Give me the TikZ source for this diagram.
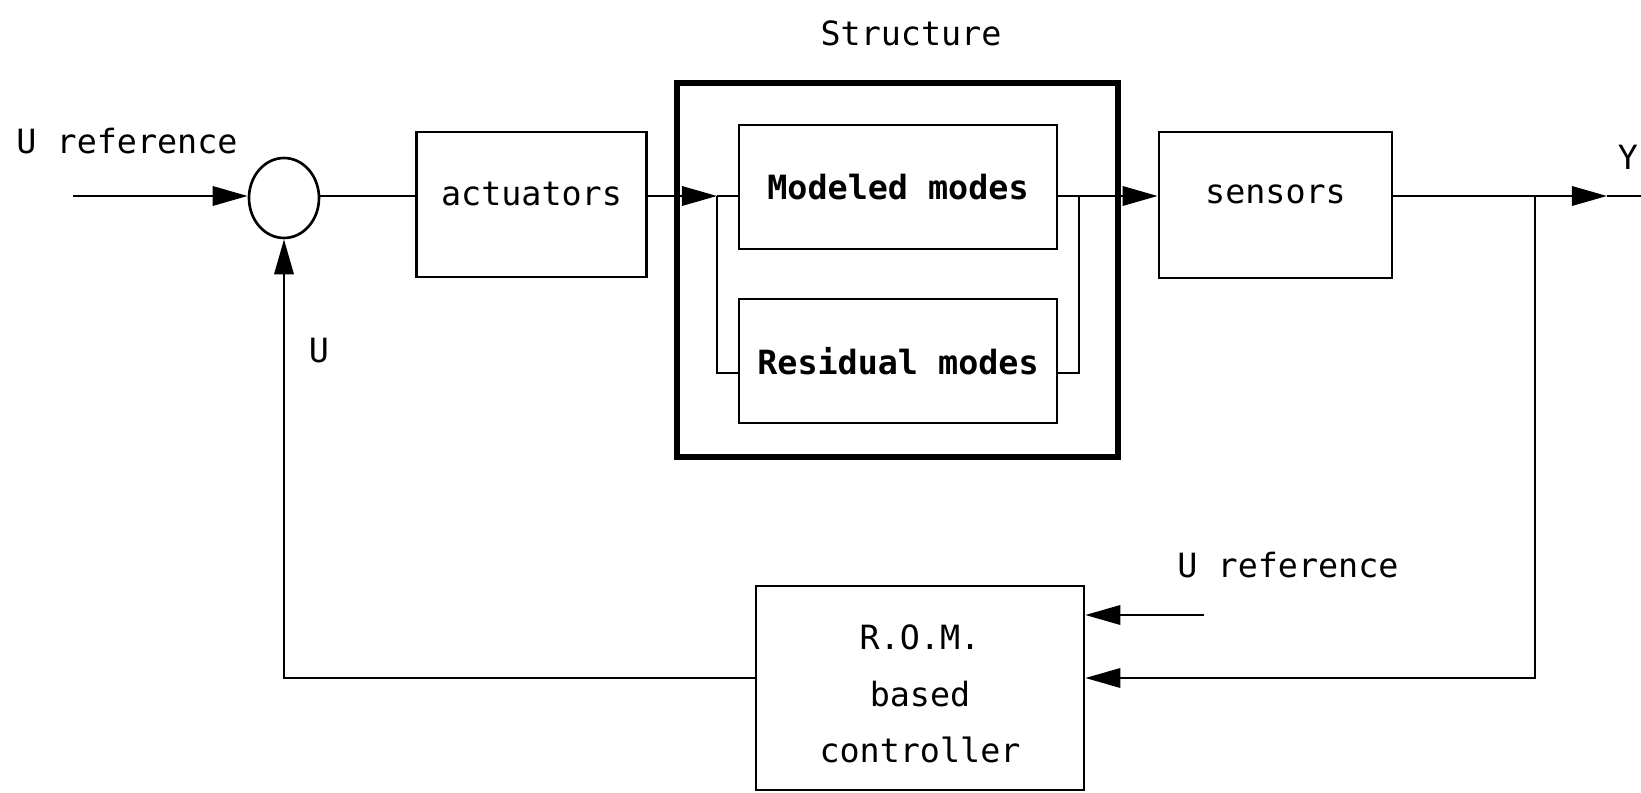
\documentclass[tikz,border=0pt]{standalone}
\usepackage{fontspec}
\setmainfont{DejaVu Sans Mono}
\usetikzlibrary{arrows.meta, positioning, shapes.geometric}
\tikzset{
  block/.style={
    rectangle, draw=black, line width=1.5pt,
    minimum width=4.6cm, minimum height=2.9cm,
    font=\fontsize{19}{23}\selectfont
  },
  raised/.style={text depth=12pt},
  modebox/.style={
    rectangle, draw=black, line width=1.5pt,
    minimum width=6.36cm, minimum height=2.48cm,
    font=\fontsize{19}{23}\selectfont\bfseries
  },
  outerbox/.style={
    rectangle, draw=black, line width=3pt,
    minimum width=8.82cm, minimum height=7.48cm
  },
  sumnode/.style={
    ellipse, draw=black, line width=1.5pt,
    minimum width=1.4cm, minimum height=1.6cm
  },
  arr/.style={-{Triangle[length=20pt,width=11pt]}, line width=1.5pt},
  lne/.style={line width=1.5pt},
  lbl/.style={font=\fontsize{19}{23}\selectfont}
}

\begin{document}
\begin{tikzpicture}[x=0.02cm, y=-0.02cm, every node/.style={align=center}]
  \useasboundingbox (0,0) rectangle (1641,793);

  % Blocks of the loop
  \node[sumnode] (sum) at (284,198) {};
  \node[block, raised] (act) at (531.5,204.5) {actuators};
  \node[outerbox] (struct) at (897.5,270) {};
  \node[lbl] (stlbl) at (911,33) {Structure};
  \node[modebox] (mod) at (898,187) {Modeled modes};
  \node[modebox] (res) at (898,361) {Residual modes};
  \node[block, raised, minimum width=4.66cm, minimum height=2.92cm]
                 (sens) at (1275.5,205) {sensors};
  \node[block, minimum width=6.56cm, minimum height=4.08cm,
        font=\fontsize{19}{32}\selectfont]
                 (rom) at (920,688) {\rule{0pt}{21pt}R.O.M.\\based\\controller};

  % Free ends and branch points
  \coordinate (in)   at (73,196);
  \coordinate (sl)   at (717,196);
  \coordinate (sr)   at (1079,196);
  \coordinate (bl)   at (717,373);
  \coordinate (br)   at (1079,373);
  \coordinate (tap)  at (1535,196);
  \coordinate (ytip) at (1607,196);
  \coordinate (yend) at (1641,196);
  \coordinate (fbr)  at (1535,678);
  \coordinate (ref)  at (1204,615);

  % Labels
  \node[lbl] (uref) at (127,141) {U reference};
  \node[lbl] (uref2) at (1288,565) {U reference};
  \node[lbl] (ulbl) at (319,351) {U};
  \node[lbl, anchor=east, inner sep=1pt] (ylbl) at (1640,157) {Y};

  % Forward path
  \draw[arr] (in) -- (in -| sum.west);
  \draw[lne] (in -| sum.east) -- (in -| act.west);
  \draw[arr] (act.east |- sl) -- (sl);
  \draw[lne] (sl) -- (sl -| mod.west);
  \draw[lne] (sl) -- (bl) -- (bl -| res.west);
  \draw[lne] (br -| res.east) -- (br) -- (sr);
  \draw[arr] (sr -| mod.east) -- (sr -| sens.west);
  \draw[arr] (sens.east |- tap) -- (ytip);
  \draw[lne] (ytip) -- (yend);

  % Feedback path
  \draw[arr] (tap) -- (fbr) -- (fbr -| rom.east);
  \draw[arr] (ref) -- (ref -| rom.east);
  \draw[arr] (rom.west |- fbr) -| (sum.south);
\end{tikzpicture}
\end{document}
